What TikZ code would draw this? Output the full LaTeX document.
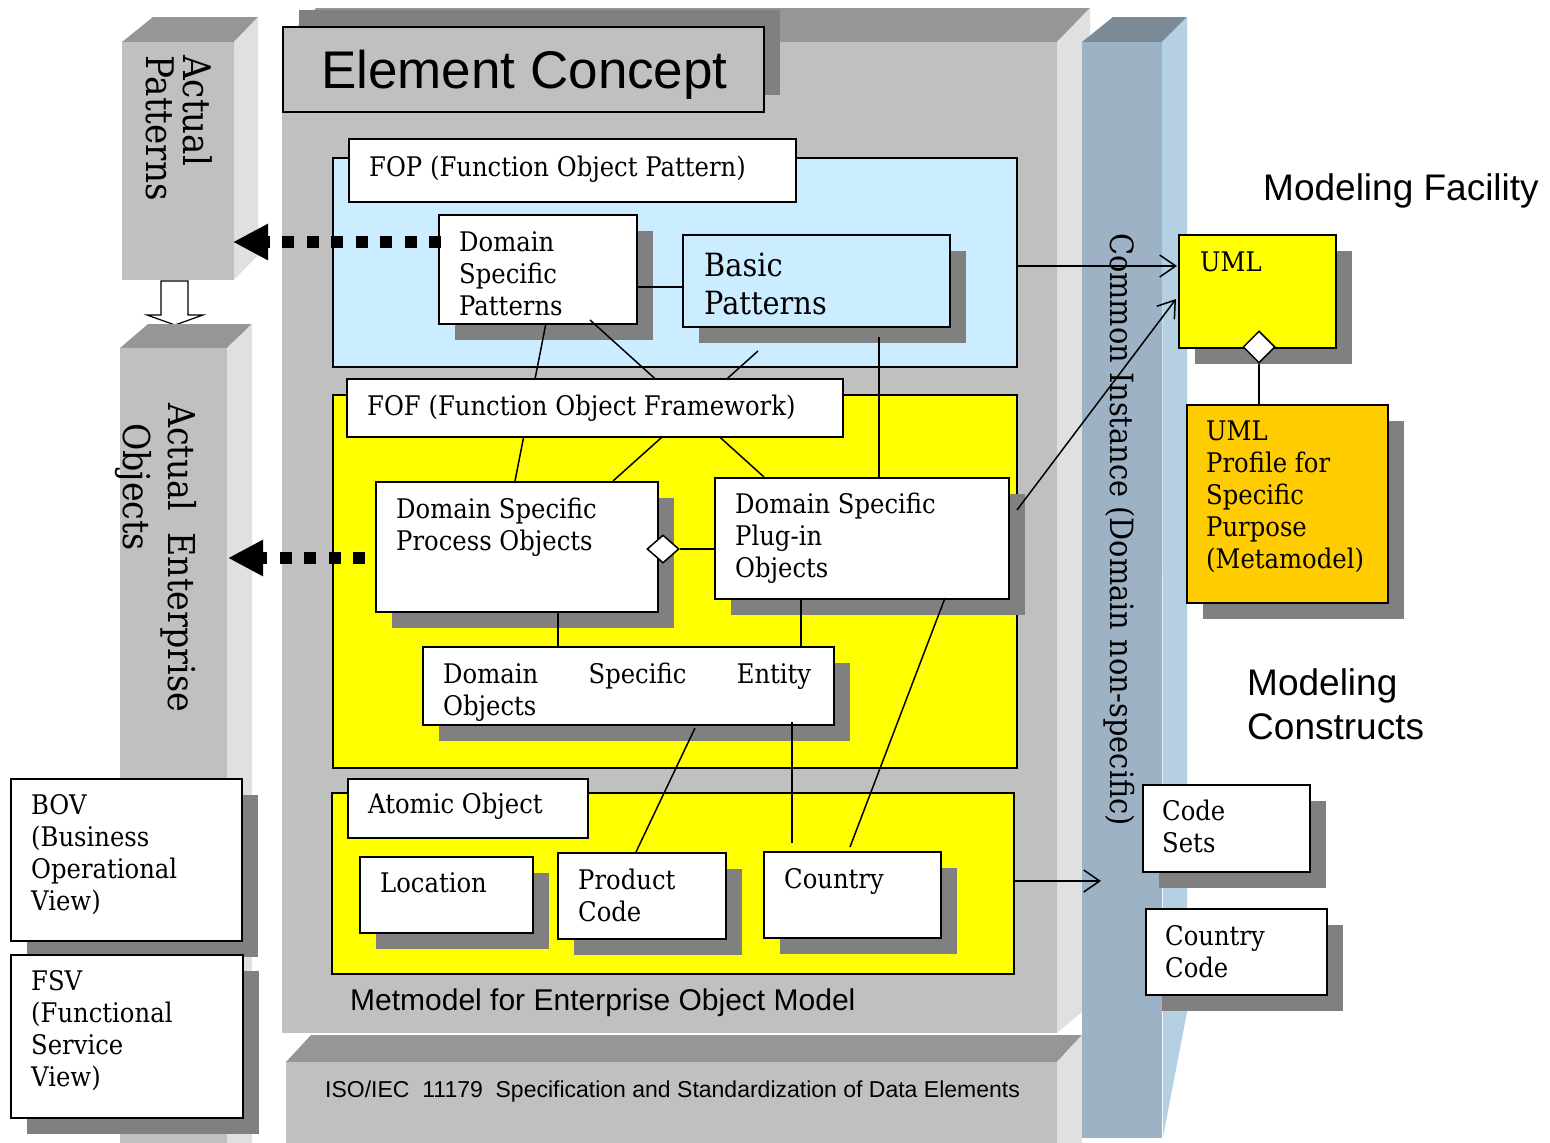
\documentclass[tikz,border=0pt]{standalone}
\usepackage{fontspec}
\setmainfont{DejaVu Serif}[FakeStretch=0.9]
\newfontfamily\arial{Liberation Sans}
\usetikzlibrary{arrows.meta,shadows,shapes.geometric}
\definecolor{frontg}{RGB}{192,192,192}
\definecolor{topg}{RGB}{150,150,150}
\definecolor{sideg}{RGB}{224,224,224}
\definecolor{shadowc}{RGB}{128,128,128}
\definecolor{fopblue}{RGB}{204,236,255}
\definecolor{ybox}{RGB}{255,255,0}
\definecolor{obox}{RGB}{255,204,0}
\definecolor{colfront}{RGB}{157,179,197}
\definecolor{coltop}{RGB}{122,139,151}
\definecolor{colside}{RGB}{181,208,226}
\newcommand\boxfnt{\fontsize{27}{32}\selectfont}
\begin{document}
\begin{tikzpicture}[x=1pt,y=-1pt,
  box/.style={draw=black, line width=1.8pt, inner sep=0pt, anchor=north west},
  shbox/.style={box, drop shadow={shadow xshift=16pt, shadow yshift=-16pt, fill=shadowc, draw=none, opacity=1}},
  tx/.style={anchor=north west, inner sep=0pt, align=left, font=\boxfnt},
  bt/.style={anchor=base west, inner sep=0pt, font=\boxfnt},
  st/.style={anchor=base west, inner sep=0pt},
  rot/.style={rotate=-90, anchor=base west, inner sep=0pt},
  conn/.style={line width=1.5pt},
  openarr/.style={conn, -{Straight Barb[length=16pt,width=22pt,line width=1.5pt]}},
  dotarr/.style={line width=12pt, dash pattern=on 12pt off 12.5pt, -{Triangle[length=35pt,width=34pt]}},
  dia/.style={diamond, draw=black, line width=1.5pt, fill=white, inner sep=0pt}
]
\useasboundingbox (0,0) rectangle (1550,1143);
\fill[white] (0,0) rectangle (1550,1143);

% ---- Actual Patterns block
\fill[topg] (122,42) -- (153,17) -- (258,17) -- (234,42) -- cycle;
\fill[sideg] (234,42) -- (258,17) -- (258,255) -- (234,280) -- cycle;
\fill[frontg] (122,42) rectangle (234,280);
\draw[line width=1.2pt, fill=white] (161,281) -- (188,281) -- (188,315) -- (203,315) -- (175,325) -- (147,315) -- (161,315) -- cycle;

% ---- Actual Enterprise Objects block
\fill[topg] (120,348) -- (148,324) -- (252,324) -- (227,348) -- cycle;
\fill[sideg] (227,348) -- (252,324) -- (252,1143) -- (227,1143) -- cycle;
\fill[frontg] (120,348) rectangle (227,1143);

% ---- main block
\fill[topg] (282,42) -- (316,8) -- (1090,8) -- (1057,42) -- cycle;
\fill[sideg] (1057,42) -- (1090,8) -- (1090,1005) -- (1057,1033) -- cycle;
\fill[frontg] (282,42) rectangle (1057,1033);
% ---- ISO block
\fill[topg] (286,1062) -- (311,1035) -- (1082,1035) -- (1057,1062) -- cycle;
\fill[sideg] (1057,1062) -- (1082,1035) -- (1082,1143) -- (1057,1143) -- cycle;
\fill[frontg] (286,1062) rectangle (1057,1143);
% ---- Common instance column
\fill[coltop] (1082,42) -- (1113,17) -- (1187,17) -- (1162,42) -- cycle;
\fill[colside] (1162,42) -- (1187,17) -- (1187,1012) -- (1163,1137) -- cycle;
\fill[colfront] (1082,42) rectangle (1162,1138);

% ---- header
\node[box, fill=frontg, minimum width=481pt, minimum height=85pt,
  drop shadow={shadow xshift=16pt, shadow yshift=17pt, fill=shadowc, draw=none, opacity=1}] (ec) at (282,26) {};

% ---- panels
\node[box, fill=fopblue, minimum width=684pt, minimum height=209pt] (fop) at (332,157) {};
\node[box, fill=ybox, minimum width=684pt, minimum height=373pt] (fof) at (332,394) {};
\node[box, fill=ybox, minimum width=682pt, minimum height=181pt] (atom) at (331,792) {};
\node[box, fill=white, minimum width=447pt, minimum height=63pt] (fopL) at (348,138) {};
\node[box, fill=white, minimum width=240pt, minimum height=59pt] (atomL) at (347,778) {};

% ---- inner boxes
\node[shbox, fill=white, minimum width=198pt, minimum height=109pt] (dsp) at (438,214) {};
\node[shbox, fill=fopblue, minimum width=267pt, minimum height=92pt] (basic) at (682,234) {};
\node[shbox, fill=white, minimum width=282pt, minimum height=130pt] (proc) at (375,481) {};
\node[shbox, fill=white, minimum width=294pt, minimum height=121pt] (plug) at (714,477) {};
\node[shbox, fill=white, minimum width=411pt, minimum height=78pt] (ent) at (422,646) {};
\node[shbox, fill=white, minimum width=173pt, minimum height=76pt] (loc) at (359,856) {};
\node[shbox, fill=white, minimum width=168pt, minimum height=86pt] (prod) at (557,852) {};
\node[shbox, fill=white, minimum width=177pt, minimum height=86pt] (ctry) at (763,851) {};
\node[shbox, fill=ybox, minimum width=157pt, minimum height=113pt] (uml) at (1178,234) {};
\node[shbox, fill=obox, minimum width=201pt, minimum height=198pt] (prof) at (1186,404) {};
\node[shbox, fill=white, minimum width=167pt, minimum height=87pt] (codes) at (1142,784) {};
\node[shbox, fill=white, minimum width=181pt, minimum height=86pt] (ccode) at (1145,908) {};
\node[shbox, fill=white, minimum width=231pt, minimum height=162pt] (bov) at (10,778) {};
\node[shbox, fill=white, minimum width=232pt, minimum height=163pt] (fsv) at (10,954) {};

% ---- connector end points
\coordinate (p1) at (546,323); \coordinate (p2) at (515,481);
\coordinate (p3) at (590,320); \coordinate (p4) at (764,477);
\coordinate (p5) at (758,351); \coordinate (p6) at (613,481);
\coordinate (p7) at (879,337); \coordinate (p8) at (879,477);
\coordinate (q1) at (636,287); \coordinate (q2) at (682,287);
\coordinate (q3) at (558,611); \coordinate (q4) at (558,646);
\coordinate (q5) at (801,598); \coordinate (q6) at (801,646);
\coordinate (q7) at (695,728); \coordinate (q8) at (636,852);
\coordinate (q9) at (792,722); \coordinate (q10) at (792,843);
\coordinate (q11) at (945,598); \coordinate (q12) at (850,847);
\coordinate (q13) at (1259,404);
\coordinate (a1) at (1016,266); \coordinate (a2) at (1177,266);
\coordinate (a3) at (1017,510); \coordinate (a4) at (1176,299);
\coordinate (a5) at (1013,881); \coordinate (a6) at (1101,881);
\coordinate (d1s) at (441,242); \coordinate (d1e) at (233,242);
\coordinate (d2s) at (375,558); \coordinate (d2e) at (228,558);

\draw[conn] (p1) -- (p2);
\draw[conn] (p3) -- (p4);
\draw[conn] (p5) -- (p6);
\draw[conn] (p7) -- (p8);
\draw[conn] (q1) -- (q2);
\draw[conn] (q3) -- (q4);
\draw[conn] (q5) -- (q6);
\draw[conn] (q7) -- (q8);
\draw[conn] (q9) -- (q10);
\draw[conn] (q11) -- (q12);

\node[dia, minimum width=32pt, minimum height=28pt] (dm1) at (663,549) {};
\draw[conn] (dm1.east) -- (dm1.east -| plug.west);
\node[dia, minimum width=32pt, minimum height=32pt] (dm2) at (1259,347) {};
\draw[conn] (dm2.south) -- (q13);

\node[box, fill=white, minimum width=496pt, minimum height=58pt] (fofL) at (346,378) {};

\draw[openarr] (a1) -- (a2);
\draw[openarr] (a3) -- (a4);
\draw[openarr] (a5) -- (a6);
\draw[dotarr] (d1s) -- (d1e);
\draw[dotarr, dash phase=14.5pt] (d2s) -- (d2e);

% ---- texts
\node[st, font=\arial\fontsize{53}{60}\selectfont] (ecT) at (321,88) {Element Concept};
\node[bt] (fopT) at (369,176) {FOP (Function Object Pattern)};
\node[bt] (fofT) at (367,415) {FOF (Function Object Framework)};
\node[bt] (atomT) at (368,813) {Atomic Object};
\node[tx] (dspT) at (459,{251-22.4}) {\strut Domain\\Specific\\Patterns};
\node[tx, font=\fontsize{32}{38}\selectfont] (basicT) at (704,{276-26.6}) {\strut Basic\\Patterns};
\node[tx] (procT) at (396,{518-22.4}) {\strut Domain Specific\\Process Objects};
\node[tx] (plugT) at (735,{513-22.4}) {\strut Domain Specific\\Plug-in\\Objects};
\node[tx] (entT) at (443,{683-22.4}) {\strut\makebox[368pt][l]{Domain\hfill Specific\hfill Entity}\\Objects};
\node[bt] (locT) at (380,892) {Location};
\node[tx] (prodT) at (578,{889-22.4}) {\strut Product\\Code};
\node[bt] (ctryT) at (784,888) {Country};
\node[bt] (umlT) at (1200,271) {UML};
\node[tx] (profT) at (1206,{440-22.4}) {\strut UML\\Profile for\\Specific\\Purpose\\(Metamodel)};
\node[tx] (codesT) at (1162,{820-22.4}) {\strut Code\\Sets};
\node[tx] (ccodeT) at (1165,{945-22.4}) {\strut Country\\Code};
\node[tx] (bovT) at (31,{814-22.4}) {\strut BOV\\(Business\\Operational\\View)};
\node[tx] (fsvT) at (31,{990-22.4}) {\strut FSV\\(Functional\\Service\\View)};

\node[st, font=\arial\fontsize{37}{44}\selectfont] (mfT) at (1263,200) {Modeling Facility};
\node[st, font=\arial\fontsize{37}{44}\selectfont] (mcT1) at (1247,695) {Modeling};
\node[st, font=\arial\fontsize{37}{44}\selectfont] (mcT2) at (1247,739) {Constructs};
\node[st, font=\arial\fontsize{30}{34}\selectfont] (metT) at (350,1010) {Metmodel for Enterprise Object Model};
\node[st, font=\arial\fontsize{23}{26}\selectfont] (isoT) at (325,1097) {ISO/IEC\ \ 11179\ \ Specification and Standardization of Data Elements};

\node[rot, font=\fontsize{38}{44}\selectfont] (apT1) at (183,55) {Actual};
\node[rot, font=\fontsize{38}{44}\selectfont] (apT2) at (146,55) {Patterns};
\node[rot, font=\fontsize{37}{44}\selectfont] (aeT1) at (168,403) {Actual\ \ Enterprise};
\node[rot, font=\fontsize{37}{44}\selectfont] (aeT2) at (123,423) {Objects};
\node[rot, font=\fontsize{32}{40}\selectfont] (ciT) at (1110,233) {Common Instance (Domain non-specific)};
\end{tikzpicture}
\end{document}
